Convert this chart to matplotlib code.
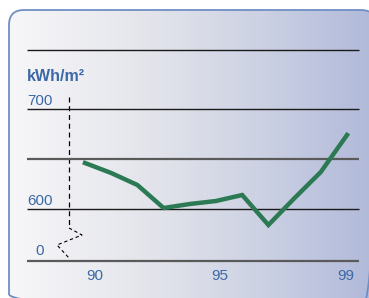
import numpy as np
import matplotlib.pyplot as plt
from matplotlib.patches import FancyBboxPatch
from matplotlib.colors import LinearSegmentedColormap

# --- data ---
years = [1989, 1990, 1991, 1992, 1993, 1994, 1995, 1996, 1997, 1998, 1999]
kwh = [646, 636, 624, 601, 605, 608, 614, 584, 611, 637, 674]
y_ticks = [700, 600]
y_tick_labels = ['700', '600']
x_tick_labels = ['90', '95', '99']
x_tick_pos = [1989.38, 1994.15, 1998.96]
grid_levels = [759, 700, 650, 600, 548]
grid_colors = ['#1a1a1a', '#1a1a1a', '#5a5a5a', '#1a1a1a', '#5a5a5a']
grid_widths = [1.0, 1.0, 1.6, 1.0, 1.6]

blue = '#3b68a6'
green = '#2b7a53'
plt.rcParams['font.family'] = ['Liberation Sans', 'DejaVu Sans']

W, H = 369, 298
fig = plt.figure(figsize=(W / 100, H / 100), dpi=100)

# background card, pixel coordinates (runs off the right and bottom edges)
bg = fig.add_axes([0, 0, 1, 1])
bg.set_xlim(0, W)
bg.set_ylim(H, 0)
bg.axis('off')

card = FancyBboxPatch((9, 10), 367, 299, boxstyle='round,pad=0,rounding_size=15',
                      facecolor='none', edgecolor='#6f8fc4', linewidth=1.3, zorder=3)
bg.add_patch(card)
cmap = LinearSegmentedColormap.from_list('card', [(0, '#f7f7f9'), (0.4, '#e3e4eb'),
                                                  (0.7, '#ccd1e3'), (1, '#b2bada')])
grad = np.linspace(0, 1, 256).reshape(1, -1)
im = bg.imshow(grad, cmap=cmap, extent=[9, 369, 309, 10], aspect='auto', zorder=1)
im.set_clip_path(card)

# dashed broken axis
bg.plot([69, 69], [97, 228], color='black', lw=0.9, ls=(0, (4, 3)), zorder=4)
bg.plot([69, 82, 57, 69], [228, 235, 245, 258], color='black', lw=0.8,
        ls=(0, (3, 2.5)), zorder=4)

# data axes: 26.2 px per year, 1 px per kWh/m2
ax = fig.add_axes([0, 0, 1, 1])
ax.patch.set_alpha(0)
px_per_year = 26.2
x0 = 1989 - 85 / px_per_year
ax.set_xlim(x0, x0 + W / px_per_year)
ax.set_ylim(700 - (H - 109), 700 + 109)
ax.axis('off')

gx0 = x0 + 27 / px_per_year
gx1 = x0 + 359 / px_per_year
for lev, c, lw in zip(grid_levels, grid_colors, grid_widths):
    ax.hlines(lev, gx0, gx1, color=c, lw=lw, zorder=2)

ax.plot(years, kwh, color=green, lw=3.2, solid_joinstyle='miter', zorder=5)

for v, lab in zip(y_ticks, y_tick_labels):
    ax.text(gx0, v + 4, lab, color=blue, fontsize=11, ha='left', va='baseline')
ax.text(x0 + 40 / px_per_year, grid_levels[-1] + 6, '0', color=blue, fontsize=11,
        ha='center', va='baseline')
ax.text(gx0, 700 + 28, 'kWh/m²', color=blue, fontsize=11.5, fontweight='bold',
        ha='left', va='baseline')
for xp, lab in zip(x_tick_pos, x_tick_labels):
    ax.text(xp, grid_levels[-1] - 19, lab, color=blue, fontsize=11, ha='center',
            va='baseline')

fig.savefig('out.png', dpi=100)
